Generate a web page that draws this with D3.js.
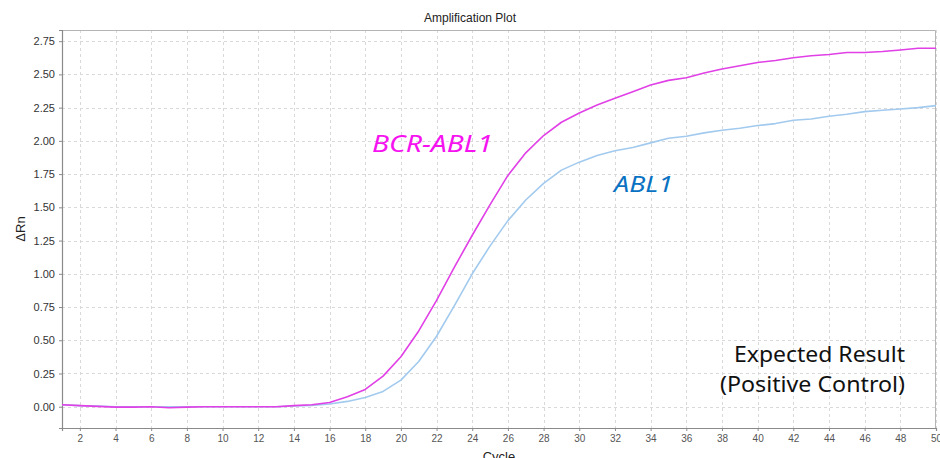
<!DOCTYPE html>
<html>
<head>
<meta charset="utf-8">
<script src="https://cdn.jsdelivr.net/npm/d3@7"></script>
<style>
  html, body { margin: 0; padding: 0; background: #fff; }
  svg { display: block; }
</style>
</head>
<body>
<svg id="chart" width="940" height="458"></svg>
<script>
// Amplification data: ΔRn per PCR cycle
const cycles = d3.range(1, 51);
const bcrAbl1 = [
  0.015, 0.008, 0.003, -0.003, -0.003, 0.000, -0.008, -0.003, 0.000, 0.000,
  0.000, 0.000, 0.000, 0.008, 0.015, 0.032, 0.075, 0.130, 0.230, 0.376,
  0.570, 0.800, 1.050, 1.290, 1.520, 1.740, 1.910, 2.040, 2.140, 2.210,
  2.270, 2.320, 2.370, 2.420, 2.455, 2.475, 2.510, 2.540, 2.565, 2.590,
  2.605, 2.625, 2.640, 2.650, 2.665, 2.665, 2.672, 2.684, 2.697, 2.697
];
const abl1 = [
  0.015, 0.008, 0.005, 0.000, 0.000, 0.000, 0.000, 0.000, 0.000, 0.000,
  0.000, 0.000, 0.000, 0.005, 0.010, 0.020, 0.040, 0.070, 0.115, 0.200,
  0.340, 0.530, 0.760, 1.000, 1.210, 1.400, 1.555, 1.680, 1.780, 1.840,
  1.890, 1.925, 1.950, 1.985, 2.020, 2.035, 2.060, 2.080, 2.095, 2.115,
  2.130, 2.155, 2.165, 2.185, 2.200, 2.220, 2.230, 2.240, 2.250, 2.265
];
const xTicks = d3.range(2, 51, 2);
const yTicks = [0, 0.25, 0.5, 0.75, 1.0, 1.25, 1.5, 1.75, 2.0, 2.25, 2.5, 2.75];

const svg = d3.select("#chart");
const margin = { left: 62, top: 30, right: 4, bottom: 30 };
const W = 940, H = 458;
const x0 = margin.left, x1 = W - margin.right, y0 = margin.top, y1 = H - margin.bottom;

const x = d3.scaleLinear().domain([1, 50]).range([x0, x1]);
const y = d3.scaleLinear().domain([-0.16, 2.834]).range([y1, y0]);

// Title
svg.append("text")
  .attr("x", 470).attr("y", 22)
  .attr("text-anchor", "middle")
  .attr("font-family", "Liberation Sans, Arial, sans-serif")
  .attr("font-size", 12).attr("fill", "#222")
  .text("Amplification Plot");

// Grid
const grid = svg.append("g").attr("stroke", "#d9d9d9").attr("stroke-dasharray", "3,3").attr("stroke-width", 1);
grid.selectAll(".gx").data(xTicks).join("line")
  .attr("x1", d => Math.round(x(d)) + 0.5).attr("x2", d => Math.round(x(d)) + 0.5)
  .attr("y1", y0).attr("y2", y1);
grid.selectAll(".gy").data(yTicks).join("line")
  .attr("y1", d => Math.round(y(d)) + 0.5).attr("y2", d => Math.round(y(d)) + 0.5)
  .attr("x1", x0).attr("x2", x1);

// Frame (top/right)
svg.append("path")
  .attr("d", `M${x0},${y0 + 0.5}H${x1 - 0.5}V${y1}`)
  .attr("fill", "none").attr("stroke", "#b5b5b5");

// Axes
const xAxis = svg.append("g")
  .attr("transform", `translate(0,${y1})`)
  .call(d3.axisBottom(x).tickValues(xTicks).tickSize(3).tickPadding(4).tickFormat(d3.format("d")));
const yAxis = svg.append("g")
  .attr("transform", `translate(${x0},0)`)
  .call(d3.axisLeft(y).tickValues(yTicks).tickSize(3).tickPadding(4).tickFormat(d3.format(".2f")));

[xAxis, yAxis].forEach(g => {
  g.selectAll(".domain").attr("stroke", "#8a8a8a").attr("stroke-width", 1.2);
  g.selectAll(".tick line").attr("stroke", "#8a8a8a");
  g.selectAll("text").attr("font-family", "Liberation Sans, Arial, sans-serif");
});
yAxis.selectAll("text").attr("font-size", 11).attr("fill", "#333");
xAxis.selectAll("text").attr("font-size", 10).attr("fill", "#555");

// Axis titles
svg.append("text")
  .attr("x", (x0 + x1) / 2).attr("y", 461)
  .attr("text-anchor", "middle")
  .attr("font-family", "Liberation Sans, Arial, sans-serif")
  .attr("font-size", 13).attr("fill", "#222")
  .text("Cycle");
svg.append("text")
  .attr("transform", `translate(25,${(y0 + y1) / 2}) rotate(-90)`)
  .attr("text-anchor", "middle")
  .attr("font-family", "Liberation Sans, Arial, sans-serif")
  .attr("font-size", 13).attr("fill", "#222")
  .text("ΔRn");

// Curves
const line = d3.line().x((d, i) => x(cycles[i])).y(d => y(d));
svg.append("path").datum(abl1)
  .attr("d", line).attr("fill", "none")
  .attr("stroke", "#a2caee").attr("stroke-width", 1.6).attr("stroke-linejoin", "round");
svg.append("path").datum(bcrAbl1)
  .attr("d", line).attr("fill", "none")
  .attr("stroke", "#e040e6").attr("stroke-width", 1.6).attr("stroke-linejoin", "round");

// Series labels
svg.append("text")
  .attr("x", 372).attr("y", 152)
  .attr("font-family", "Noto Sans, sans-serif").attr("font-style", "italic")
  .attr("font-size", 23).attr("fill", "#f513f0")
  .attr("textLength", 121).attr("lengthAdjust", "spacingAndGlyphs")
  .text("BCR-ABL1");
svg.append("text")
  .attr("x", 614).attr("y", 192)
  .attr("font-family", "Noto Sans, sans-serif").attr("font-style", "italic")
  .attr("font-size", 22).attr("fill", "#0a72c2")
  .attr("textLength", 59).attr("lengthAdjust", "spacingAndGlyphs")
  .text("ABL1");

// Annotation
const note = svg.append("g")
  .attr("font-family", "Noto Sans, sans-serif")
  .attr("font-size", 21).attr("fill", "#111")
  .attr("text-anchor", "end");
note.append("text").attr("x", 905).attr("y", 362)
  .attr("textLength", 171).attr("lengthAdjust", "spacingAndGlyphs")
  .text("Expected Result");
note.append("text").attr("x", 905).attr("y", 392)
  .attr("textLength", 185).attr("lengthAdjust", "spacingAndGlyphs")
  .text("(Positive Control)");
</script>
</body>
</html>
